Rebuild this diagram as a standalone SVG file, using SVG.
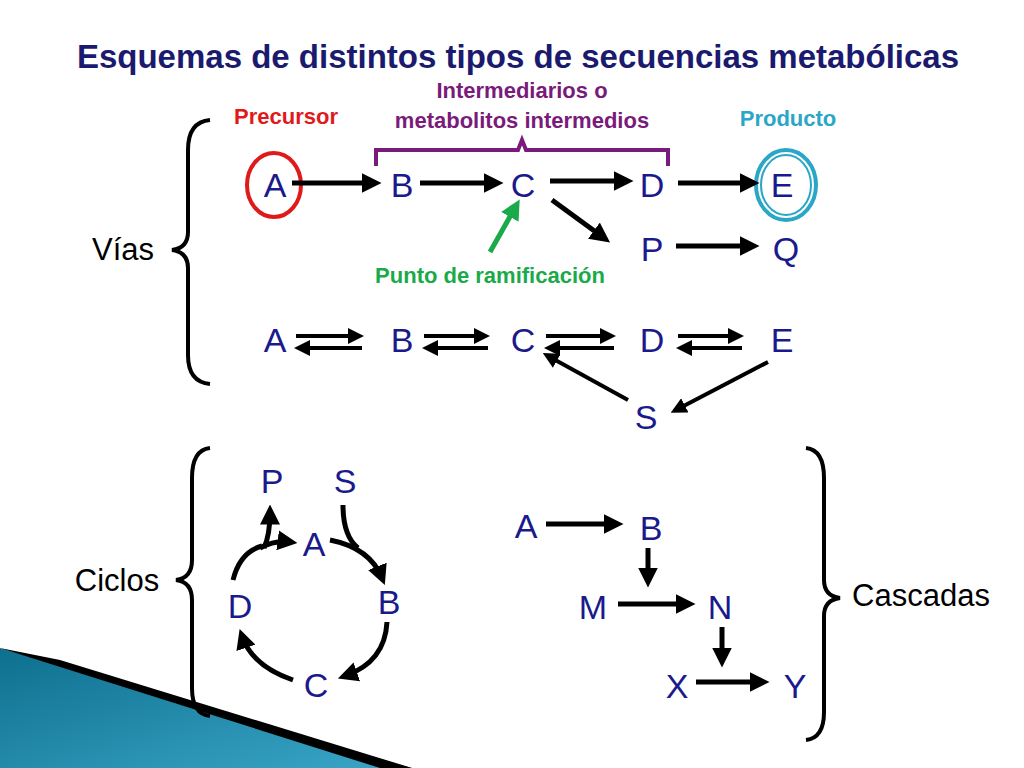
<svg xmlns="http://www.w3.org/2000/svg" width="1024" height="768" viewBox="0 0 1024 768">
<defs>
<marker id="ah" markerWidth="4" markerHeight="4" refX="2.5" refY="2" orient="auto" markerUnits="strokeWidth"><path d="M0,0 L4,2 L0,4 Z" fill="#000"/></marker>
<marker id="ahg" markerWidth="4" markerHeight="4" refX="2.5" refY="2" orient="auto" markerUnits="strokeWidth"><path d="M0,0 L4,2 L0,4 Z" fill="#1aaa4a"/></marker>
<linearGradient id="bl" x1="0" y1="0" x2="1" y2="1"><stop offset="0" stop-color="#0e6f8e"/><stop offset="1" stop-color="#3aa6c8"/></linearGradient>
</defs>
<style>
.l{font-family:"Liberation Sans",Arial,sans-serif;font-size:34px;fill:#1a1a8c;text-anchor:middle}
.w{font-family:"Liberation Sans",Arial,sans-serif;font-size:31px;fill:#000;text-anchor:middle}
.c{fill:none;stroke:#000;stroke-width:5}
.b{fill:none;stroke:#000;stroke-width:4}
.s{font-family:"Liberation Sans",Arial,sans-serif;font-size:22px;font-weight:bold;text-anchor:middle}
</style>
<rect width="1024" height="768" fill="#fff"/>
<polygon points="0,648 412,768 0,768" fill="url(#bl)"/>
<polygon points="0,648 60,660 412,768 380,768" fill="#000"/>
<text x="518" y="68" font-family="Liberation Sans,Arial,sans-serif" font-size="33" font-weight="bold" fill="#1a1a6e" text-anchor="middle">Esquemas de distintos tipos de secuencias metabólicas</text>
<text class="s" x="286" y="124" fill="#e01a1a">Precursor</text>
<text class="s" x="522" y="98" fill="#7a1a7a">Intermediarios o</text>
<text class="s" x="522" y="128" fill="#7a1a7a">metabolitos intermedios</text>
<text class="s" x="788" y="126" fill="#2aa6c6">Producto</text>
<text class="s" x="490" y="283" fill="#1aaa4a">Punto de ramificación</text>
<path d="M376,166 V150 H518 L522,140 L526,150 H668 V166" fill="none" stroke="#7a1a7a" stroke-width="4"/>
<ellipse cx="274" cy="185" rx="27" ry="32" fill="none" stroke="#e01a1a" stroke-width="4"/>
<ellipse cx="786" cy="185" rx="30" ry="35" fill="none" stroke="#2aa6c6" stroke-width="4"/>
<ellipse cx="786" cy="185" rx="25" ry="30" fill="none" stroke="#2aa6c6" stroke-width="2"/>
<g id="braces" fill="none" stroke="#000" stroke-width="4">
<path d="M210,120 Q188,122 188,150 V232 Q188,248 172,250 Q188,252 188,268 V355 Q188,382 210,384"/>
<path d="M210,448 Q192,450 192,478 V560 Q192,578 176,580 Q192,582 192,600 V688 Q192,714 210,716"/>
<path d="M806,448 Q824,450 824,478 V580 Q824,596 840,598 Q824,600 824,616 V712 Q824,738 806,740"/>
</g>
<text class="w" x="123" y="260">Vías</text>
<text class="w" x="117" y="591">Ciclos</text>
<text class="w" x="921" y="606">Cascadas</text>
<g id="n1" class="l"><text x="275" y="197">A</text><text x="402" y="197">B</text><text x="523" y="197">C</text><text x="652" y="197">D</text><text x="782" y="197">E</text><text x="652" y="261">P</text><text x="786" y="261">Q</text></g>
<g id="n2" class="l"><text x="275" y="352">A</text><text x="402" y="352">B</text><text x="523" y="352">C</text><text x="652" y="352">D</text><text x="782" y="352">E</text><text x="646" y="429">S</text></g>
<g id="n3" class="l"><text x="272" y="493">P</text><text x="345" y="493">S</text><text x="314" y="556">A</text><text x="389" y="614">B</text><text x="240" y="618">D</text><text x="316" y="697">C</text></g>
<g id="n4" class="l"><text x="526" y="538">A</text><text x="651" y="540">B</text><text x="593" y="619">M</text><text x="720" y="619">N</text><text x="677" y="698">X</text><text x="795" y="698">Y</text></g>
<g id="connectors" class="c">
<path d="M292,183 H374" marker-end="url(#ah)"/>
<path d="M420,183 H496" marker-end="url(#ah)"/>
<path d="M550,181 H626" marker-end="url(#ah)"/>
<path d="M678,183 H752" marker-end="url(#ah)"/>
<path d="M552,200 L604,238" marker-end="url(#ah)"/>
<path d="M676,246 H752" marker-end="url(#ah)"/>
<path d="M490,252 L516,206" stroke="#1aaa4a" marker-end="url(#ahg)"/>
<g class="b">
<path d="M296,336 H358" marker-end="url(#ah)"/><path d="M362,348 H300" marker-end="url(#ah)"/>
<path d="M424,336 H484" marker-end="url(#ah)"/><path d="M488,348 H428" marker-end="url(#ah)"/>
<path d="M546,336 H610" marker-end="url(#ah)"/><path d="M614,348 H550" marker-end="url(#ah)"/>
<path d="M678,336 H738" marker-end="url(#ah)"/><path d="M742,348 H682" marker-end="url(#ah)"/>
<path d="M628,400 L548,356" marker-end="url(#ah)"/>
<path d="M768,362 L676,410" marker-end="url(#ah)"/>
</g>
<path d="M264,548 Q270,535 270,512" marker-end="url(#ah)"/>
<path d="M260,548 Q275,540 290,542" marker-end="url(#ah)"/>
<path d="M233,580 Q240,552 262,546"/>
<path d="M330,540 Q370,548 382,578" marker-end="url(#ah)"/>
<path d="M343,505 Q343,536 358,548"/>
<path d="M387,622 Q385,662 345,676" marker-end="url(#ah)"/>
<path d="M293,680 Q252,666 242,636" marker-end="url(#ah)"/>
<path d="M546,524 H616" marker-end="url(#ah)"/>
<path d="M648,548 V580" marker-end="url(#ah)"/>
<path d="M618,604 H688" marker-end="url(#ah)"/>
<path d="M722,627 V660" marker-end="url(#ah)"/>
<path d="M696,682 H762" marker-end="url(#ah)"/>
</g>
</svg>
